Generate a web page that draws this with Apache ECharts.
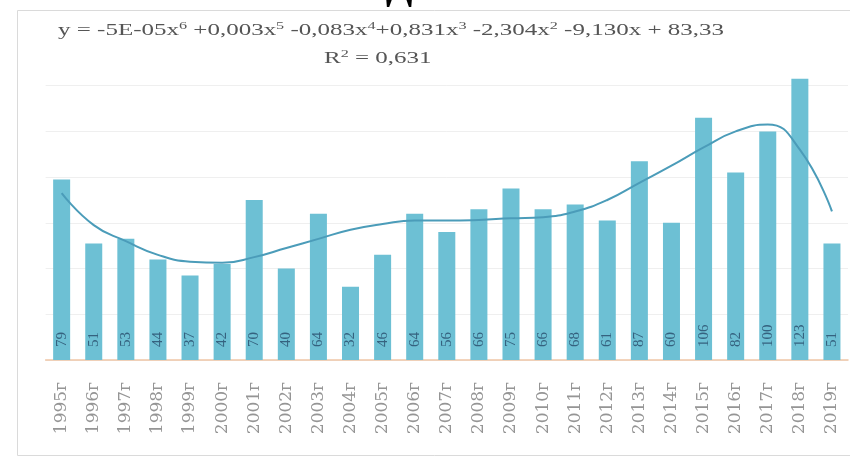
<!DOCTYPE html>
<html>
<head>
<meta charset="utf-8">
<script src="https://cdn.jsdelivr.net/npm/echarts@6/dist/echarts.min.js"></script>
<style>
html,body{margin:0;padding:0;background:#fff;}
#chart{width:850px;height:461px;}
</style>
</head>
<body>
<div id="chart"></div>
<script>
const categories = ['1995г','1996г','1997г','1998г','1999г','2000г','2001г','2002г','2003г','2004г','2005г','2006г','2007г','2008г','2009г','2010г','2011г','2012г','2013г','2014г','2015г','2016г','2017г','2018г','2019г'];
const values = [79,51,53,44,37,42,70,40,64,32,46,64,56,66,75,66,68,61,87,60,106,82,100,123,51];
const trendValues = [73,59,52,46,43,42.5,45,49,53,57,59.5,61,61,61.3,62,62.5,65,70,77.5,85,93,100,103,92,65];
const yTicks = {min:0, max:140, interval:20};
const titleText = 'Донки';
const equationText = 'y = -5E-05x{s|6} +0,003x{s|5} -0,083x{s|4}+0,831x{s|3} -2,304x{s|2} -9,130x + 83,33';
const r2Text = 'R{s|2} = 0,631';

const chart = echarts.init(document.getElementById('chart'), null, {renderer:'canvas'});
const serif = '"Liberation Serif", "DejaVu Serif", serif';
const supStyle = {fontSize:11, fontFamily:serif, color:'#555', padding:[0,0,9,0]};
chart.setOption({
  backgroundColor:'#fff',
  animation:false,
  grid:{left:45.6, right:2, top:40, bottom:101},
  graphic:[
    {type:'rect', shape:{x:17.5,y:10.5,width:850,height:445}, style:{fill:'none', stroke:'#dadada', lineWidth:1}, z:-1},
    {type:'text', x:442, y:8, scaleX:1.2, style:{text:titleText, x:0, y:0, textAlign:'center', textVerticalAlign:'bottom', font:'bold 32px '+serif, fill:'#000'}},
    {type:'text', x:58, y:21, scaleX:1.47, style:{text:equationText, font:'17px '+serif, fill:'#555', rich:{s:supStyle}}},
    {type:'text', x:324, y:49, scaleX:1.47, style:{text:r2Text, font:'17px '+serif, fill:'#555', rich:{s:supStyle}}}
  ],
  xAxis:{
    type:'category', data:categories,
    axisLine:{lineStyle:{color:'#efc6a6', width:1.5}},
    axisTick:{show:false},
    axisLabel:{rotate:90, margin:22, color:'#959595', fontSize:17, fontFamily:'"DejaVu Serif", serif'}
  },
  yAxis:{
    type:'value', min:yTicks.min, max:yTicks.max, interval:yTicks.interval,
    axisLabel:{show:false}, axisLine:{show:false}, axisTick:{show:false},
    splitLine:{lineStyle:{color:['#efefef','#efefef','#efefef','#efefef','#efefef','#efefef','#efefef','rgba(0,0,0,0)']}}
  },
  series:[
    {type:'bar', data:values, barWidth:'53%', itemStyle:{color:'#6dc0d4'},
     label:{show:true, position:'insideBottom', rotate:90, align:'left', verticalAlign:'middle', distance:13,
            color:'#35627f', fontSize:15, fontFamily:serif}},
    {type:'line', data:trendValues, smooth:true, showSymbol:false, symbol:'none',
     lineStyle:{color:'#4b9cb9', width:2}, z:5}
  ]
});
</script>
</body>
</html>
